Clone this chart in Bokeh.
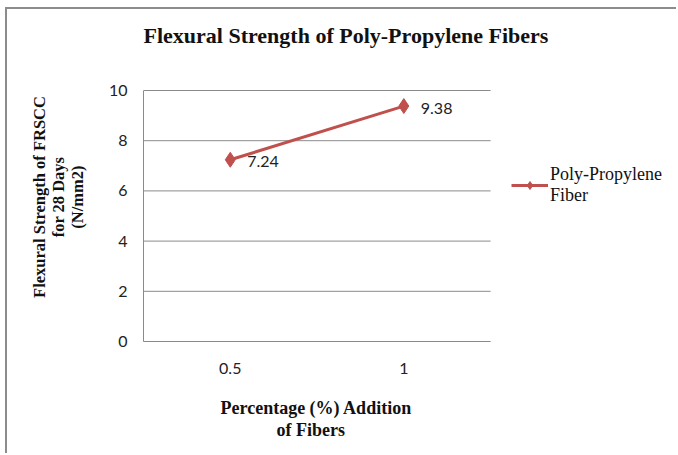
from bokeh.plotting import figure
from bokeh.models import Range1d, Legend, LegendItem, ColumnDataSource, FixedTicker, LinearAxis, Title
from bokeh.core.properties import value
from bokeh.embed import file_html
from bokeh.resources import INLINE

categories = ["0.5", "1"]
percent = [0.5, 1.0]
strength = [7.24, 9.38]
strength_labels = ["7.24", "9.38"]
y_ticks = [0, 2, 4, 6, 8, 10]
x_title_lines = ["Percentage (%) Addition", "of Fibers"]

RED = "#C0504D"
GRID = "#8a8a8a"
SERIF = "Liberation Serif"
SANS = "Lato"

# category slots are 0.5 wide: the plot area spans 0.25 .. 1.25, the rest of the
# frame (to the right) holds the legend; the value axis stops at 10
X0, X1, XEND = 0.25, 1.25, 1.777
YEND = 11.514

p = figure(width=671, height=446, x_range=Range1d(X0, XEND), y_range=Range1d(0, YEND),
           output_backend="svg", toolbar_location=None,
           min_border_left=136, min_border_right=5, min_border_top=43, min_border_bottom=114,
           styles={"border-top": "2px solid #8c8c8c", "border-left": "2px solid #8c8c8c",
                   "margin-left": "5px", "margin-top": "7px"})

p.title.text = "Flexural Strength of Poly-Propylene Fibers"
p.title.text_font = SERIF
p.title.text_font_size = "22px"
p.title.text_font_style = "bold"
p.title.text_color = "#111111"
p.title.align = "left"
p.title.offset = 0
p.title.standoff = 10

p.outline_line_color = None
p.background_fill_color = "white"
p.border_fill_color = "white"

# horizontal gridlines limited to the plot area
p.xgrid.grid_line_color = None
p.ygrid.grid_line_color = None
p.segment(x0=[X0] * len(y_ticks), x1=[X1] * len(y_ticks), y0=y_ticks, y1=y_ticks,
          line_color=GRID, line_width=1)

src = ColumnDataSource(dict(x=percent, y=strength, lab=strength_labels))
ln = p.line("x", "y", source=src, line_color=RED, line_width=3)
sc = p.scatter("x", "y", source=src, marker="diamond", size=15, fill_color=RED, line_color=RED)
p.text("x", "y", text="lab", source=src, x_offset=17, y_offset=2, text_font=value(SANS),
       text_font_size="16px", text_color="#222222", text_baseline="middle", text_align="left")

# axes
p.yaxis.ticker = FixedTicker(ticks=y_ticks)
p.xaxis.ticker = FixedTicker(ticks=percent)
p.xaxis.major_label_overrides = {v: c for v, c in zip(percent, categories)}
p.xaxis.bounds = (X0, X1)
p.yaxis.bounds = (0, 10)
for ax in (p.xaxis[0], p.yaxis[0]):
    ax.axis_line_color = GRID
    ax.axis_line_width = 1
    ax.major_tick_line_color = None
    ax.minor_tick_line_color = None
    ax.major_tick_out = 0
    ax.major_tick_in = 0
    ax.major_label_text_font = SANS
    ax.major_label_text_font_size = "16px"
    ax.major_label_text_color = "#222222"
p.yaxis.major_label_standoff = 16
p.yaxis.axis_label = "Flexural Strength of FRSCC\nfor 28 Days\n(N/mm2)"
p.yaxis.axis_label_text_font = SERIF
p.yaxis.axis_label_text_font_style = "bold"
p.yaxis.axis_label_text_font_size = "16.5px"
p.yaxis.axis_label_text_line_height = 1.0
p.yaxis.axis_label_text_color = "#111111"
p.yaxis.axis_label_standoff = 19
p.xaxis.major_label_standoff = 21

# invisible strip that keeps a gap between the category labels and the x title
spacer = LinearAxis(ticker=FixedTicker(ticks=[X0]), axis_line_color=None,
                    major_tick_line_color=None, minor_tick_line_color=None,
                    major_tick_out=21, major_tick_in=0, major_label_standoff=0,
                    major_label_overrides={X0: ""}, major_label_text_font_size="0px")
p.add_layout(spacer, "below")

# x title: two centred lines under the plot area
for txt, off in zip(x_title_lines, [77, 133]):
    t = Title(text=txt, align="left", offset=off, vertical_align="top", standoff=0,
              text_font=SERIF, text_font_style="bold", text_font_size="18px",
              text_color="#111111", text_line_height=1.0)
    p.add_layout(t, "below")

legend = Legend(items=[LegendItem(label="Poly-Propylene\nFiber", renderers=[ln, sc])],
                location=(368, 135), border_line_color=None, background_fill_alpha=0,
                glyph_width=37, label_standoff=2, padding=0, margin=0,
                label_text_font=SERIF, label_text_font_size="18px", label_text_color="#111111",
                label_text_line_height=1.0)
p.add_layout(legend)

open("out.html", "w").write(file_html(p, INLINE))
